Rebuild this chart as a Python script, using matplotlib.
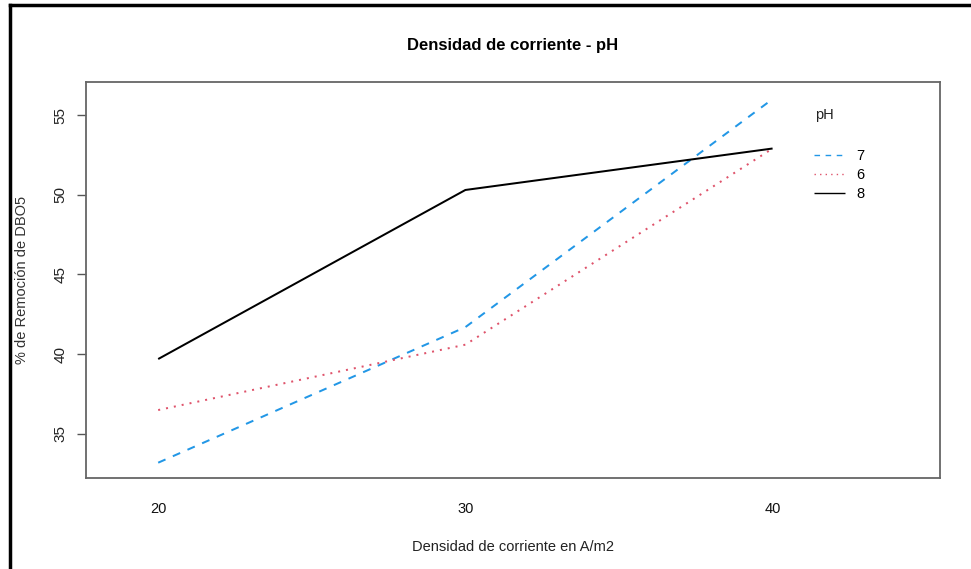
import numpy as np
import matplotlib.pyplot as plt
from matplotlib.lines import Line2D

plt.rcParams['font.family'] = ['Liberation Sans', 'DejaVu Sans']

# densidad de corriente (A/m2) y % de remoción de DBO5 por pH
densidad = [20, 30, 40]
ph_labels = ['7', '6', '8']
remocion_ph7 = [33.2, 41.7, 56.0]
remocion_ph6 = [36.5, 40.6, 52.9]
remocion_ph8 = [39.7, 50.3, 52.9]

colores = ['#2297E6', '#DF536B', '#000000']
estilos = [(0, (4, 4)), (0, (1, 3)), '-']
series = [remocion_ph7, remocion_ph6, remocion_ph8]

W, H = 971, 569
fig = plt.figure(figsize=(W / 100, H / 100), dpi=100)
ax = fig.add_axes([86 / W, 1 - 478 / H, (940 - 86) / W, (478 - 82) / H])

lw = 2 * 72 / 100
for vals, col, ls, lab in zip(series, colores, estilos, ph_labels):
    ax.plot(densidad, vals, color=col, linestyle=ls, linewidth=lw,
            solid_capstyle='butt', dash_capstyle='butt', label=lab)

ax.set_xlim(17.65, 45.45)
ax.set_ylim(32.24, 57.07)
ax.set_xticks(densidad)
ax.set_yticks([35, 40, 45, 50, 55])

for s in ax.spines.values():
    s.set_color('#666666')
    s.set_linewidth(1.3)

ax.tick_params(axis='x', length=0, pad=17, labelsize=10.5, labelcolor='#111111')
ax.tick_params(axis='y', length=6.5, width=1, color='#555555', pad=7,
               labelsize=11, labelcolor='#222222')
for t in ax.get_yticklabels():
    t.set_rotation(90)
    t.set_va('center')

ax.set_xlabel('Densidad de corriente en A/m2', fontsize=10.5, color='#222222')
ax.xaxis.set_label_coords(0.5, -0.174)
ax.xaxis.label.set_va('center')
ax.set_ylabel('% de Remoción de DBO5', fontsize=10.5, color='#333333')
ax.yaxis.set_label_coords(-0.0745, 0.5)
ax.yaxis.label.set_va('center')

ax.text(0.5, 1.093, 'Densidad de corriente - pH', transform=ax.transAxes,
        ha='center', va='center', fontsize=12, fontweight='bold')

# leyenda: título aparte y entradas sin marco
ax.text(0.854, 0.917, 'pH', transform=ax.transAxes, ha='left', va='center',
        fontsize=10.5, color='#222222')
leg = ax.legend(loc='upper left', bbox_to_anchor=(0.846, 0.846), frameon=False,
                fontsize=10.5, handlelength=2.1, handletextpad=0.8,
                labelspacing=0.35, borderaxespad=0)
for h in leg.get_lines():
    h.set_linewidth(1.0)

# marco exterior (borde superior e izquierdo)
fig.add_artist(Line2D([10 / W, 1], [1 - 5 / H, 1 - 5 / H], color='black',
                      linewidth=2.5, transform=fig.transFigure))
fig.add_artist(Line2D([10 / W, 10 / W], [0, 1 - 5 / H], color='black',
                      linewidth=2.5, transform=fig.transFigure))

fig.savefig('out.png', dpi=100)
